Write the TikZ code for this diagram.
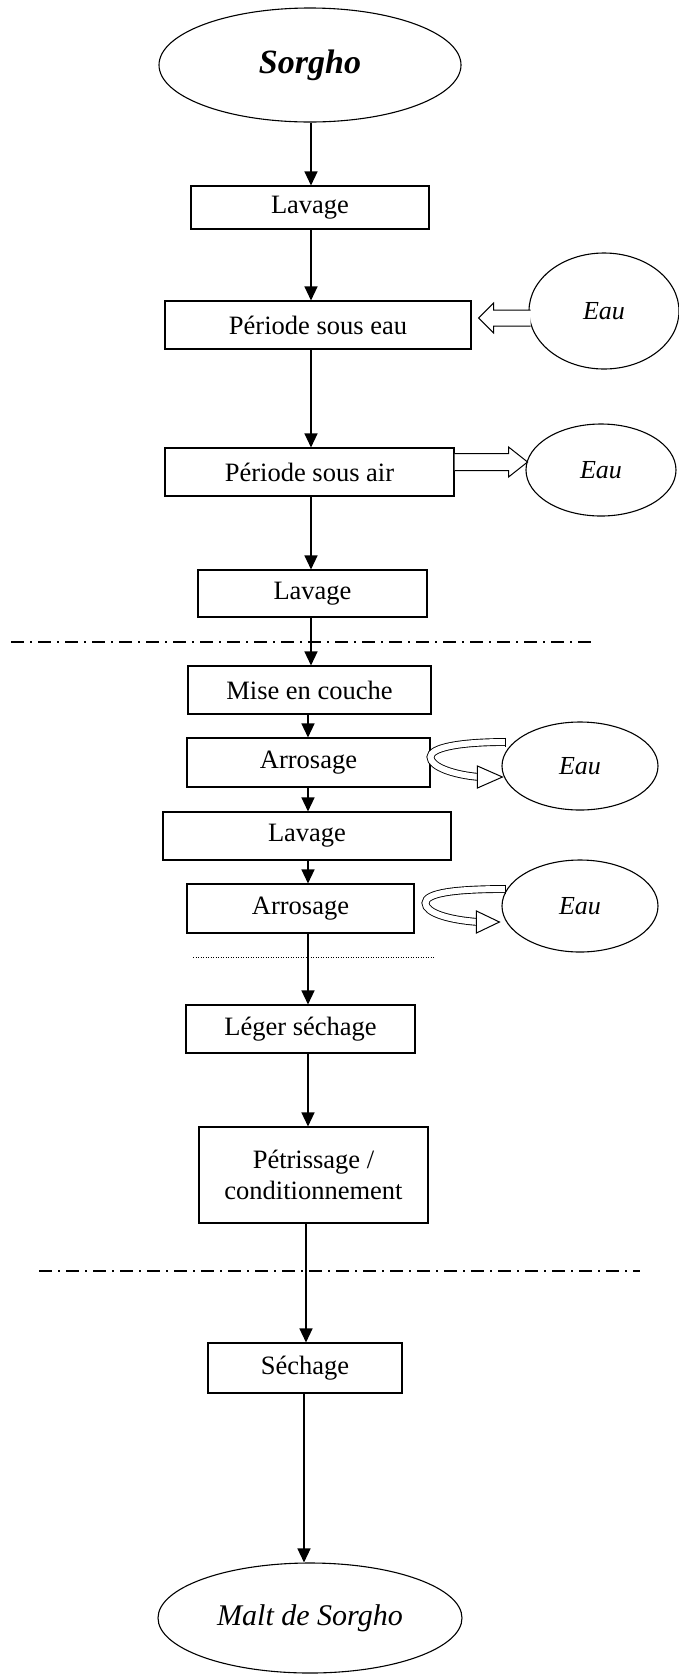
\documentclass[tikz,border=0pt]{standalone}
\usepackage{fontspec}
\setmainfont{Liberation Serif}
\usetikzlibrary{arrows.meta,calc,shapes.geometric}
\begin{document}
\begin{tikzpicture}[x=1pt,y=-1pt,
  box/.style={draw, line width=1.1pt, inner sep=0pt, align=center,
    font=\fontsize{26.5}{31}\selectfont},
  ell/.style={draw, ellipse, line width=1.1pt, inner sep=0pt},
  flow/.style={line width=1.3pt, -{Triangle[width=13pt,length=14pt]}},
  hol/.style={draw, fill=white, line width=1pt, line join=miter},
  rib/.style={line width=0.9pt, double=white, double distance=6pt},
  sep/.style={line width=1.2pt, dash pattern=on 13pt off 6pt on 2pt off 6pt}]
\useasboundingbox (0,0) rectangle (679,1674);
% spine coordinates
\coordinate (sA) at (311,0);
\coordinate (sB) at (308,0);
\coordinate (sC) at (306,0);
\coordinate (sD) at (304,0);
% nodes
\node[ell, minimum width=302pt, minimum height=114pt,
  font=\fontsize{34}{40}\selectfont\bfseries\itshape] (sor) at (310,65) {Sorgho};
\node[box, minimum width=238pt, minimum height=43pt] (lav1) at (310,207.5) {Lavage};
\node[box, minimum width=306pt, minimum height=48pt] (pse) at (318,325) {Période sous eau};
\node[ell, minimum width=150pt, minimum height=116pt,
  font=\fontsize{26}{30}\selectfont\itshape] (eau1) at (604,311) {Eau};
\node[box, minimum width=289pt, minimum height=48pt] (psa) at (309.5,472) {Période sous air};
\node[ell, minimum width=150pt, minimum height=92pt,
  font=\fontsize{26}{30}\selectfont\itshape] (eau2) at (601,470) {Eau};
\node[box, minimum width=229pt, minimum height=47pt] (lav2) at (312.5,593.5) {Lavage};
\node[box, minimum width=243pt, minimum height=48pt] (mise) at (309.5,690) {Mise en couche};
\node[box, minimum width=243pt, minimum height=49pt] (arr1) at (308.5,762.5) {Arrosage};
\node[ell, minimum width=156pt, minimum height=88pt,
  font=\fontsize{26}{30}\selectfont\itshape] (eau3) at (580,766) {Eau};
\node[box, minimum width=288pt, minimum height=48pt] (lav3) at (307,836) {Lavage};
\node[box, minimum width=227pt, minimum height=49pt] (arr2) at (300.5,908.5) {Arrosage};
\node[ell, minimum width=156pt, minimum height=92pt,
  font=\fontsize{26}{30}\selectfont\itshape] (eau4) at (580,906) {Eau};
\node[box, minimum width=229pt, minimum height=48pt] (leg) at (300.5,1029) {Léger séchage};
\node[box, minimum width=229pt, minimum height=96pt] (pet) at (313.5,1175) {Pétrissage /\\conditionnement};
\node[box, minimum width=194pt, minimum height=50pt] (sech) at (305,1368) {Séchage};
\node[ell, minimum width=304pt, minimum height=110pt,
  font=\fontsize{30}{36}\selectfont\itshape] (malt) at (310,1618) {Malt de Sorgho};
% separators
\draw[sep] (11,642) -- (595,642);
\draw[line width=0.7pt, dash pattern=on 1pt off 1.5pt] (193,957) -- (435,957);
\draw[sep] (39,1271) -- (640,1271);
% vertical flow
\draw[flow] (sor.south -| sA) -- (lav1.north -| sA);
\draw[flow] (lav1.south -| sA) -- (pse.north -| sA);
\draw[flow] (pse.south -| sA) -- (psa.north -| sA);
\draw[flow] (psa.south -| sA) -- (lav2.north -| sA);
\draw[flow] (lav2.south -| sA) -- (mise.north -| sA);
\draw[flow] (mise.south -| sB) -- (arr1.north -| sB);
\draw[flow] (arr1.south -| sB) -- (lav3.north -| sB);
\draw[flow] (lav3.south -| sB) -- (arr2.north -| sB);
\draw[flow] (arr2.south -| sB) -- (leg.north -| sB);
\draw[flow] (leg.south -| sB) -- (pet.north -| sB);
\draw[flow] (pet.south -| sC) -- (sech.north -| sC);
\draw[flow] (sech.south -| sD) -- (malt.north -| sD);
% hollow arrow Eau -> Periode sous eau
\coordinate (h1) at ($(pse.east)+(7,-7)$);
\draw[hol] ($(h1)+(52,-8)$) -- ($(h1)+(15,-8)$) -- ($(h1)+(15,-15)$) -- (h1)
  -- ($(h1)+(15,15)$) -- ($(h1)+(15,8)$) -- ($(h1)+(52,8)$);
% hollow arrow Periode sous air -> Eau
\coordinate (h2) at ($(psa.east)+(73,-10)$);
\draw[hol] ($(h2)+(-73,-8.5)$) -- ($(h2)+(-19,-8.5)$) -- ($(h2)+(-19,-15)$) -- (h2)
  -- ($(h2)+(-19,15)$) -- ($(h2)+(-19,8.5)$) -- ($(h2)+(-73,8.5)$);
% curved hollow arrow 1
\coordinate (w3) at (eau3.west);
\draw[rib] ($(w3)+(4,-24)$) .. controls ($(w3)+(-44,-24)$) and ($(w3)+(-71,-18)$) .. ($(w3)+(-71,-9)$)
  .. controls ($(w3)+(-71,1)$) and ($(w3)+(-47,9)$) .. ($(w3)+(-22,11)$);
\draw[line width=0.9pt] ($(w3)+(4,-28.5)$) -- ($(w3)+(4,-19.5)$);
\draw[hol] ($(w3)+(-24,0)$) -- ($(w3)+(1,11)$) -- ($(w3)+(-24,22)$) -- cycle;
% curved hollow arrow 2
\coordinate (w4) at (eau4.west);
\draw[rib] ($(w4)+(4,-17)$) .. controls ($(w4)+(-47,-17)$) and ($(w4)+(-76,-13)$) .. ($(w4)+(-76,-3)$)
  .. controls ($(w4)+(-76,7)$) and ($(w4)+(-52,14)$) .. ($(w4)+(-23,16)$);
\draw[line width=0.9pt] ($(w4)+(4,-21.5)$) -- ($(w4)+(4,-12.5)$);
\draw[hol] ($(w4)+(-25,5)$) -- ($(w4)+(-2,16)$) -- ($(w4)+(-25,27)$) -- cycle;
\end{tikzpicture}
\end{document}
